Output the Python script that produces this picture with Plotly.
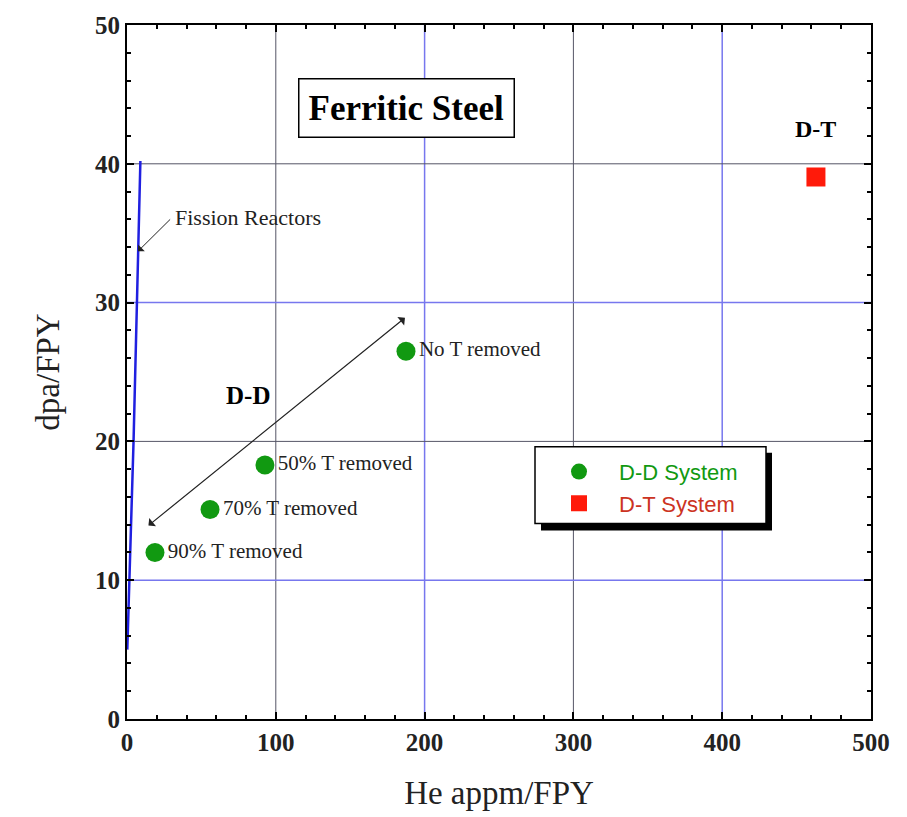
import plotly.graph_objects as go

# Data
dd_x = [18.8, 55.8, 92.7, 187.5]
dd_y = [12.0, 15.1, 18.3, 26.5]
dd_labels = ["90% T removed", "70% T removed", "50% T removed", "No T removed"]
dt_x = [463]
dt_y = [39.05]
fission_x = [0.2, 4.4, 9.0]
fission_y = [5.0, 20.0, 40.2]
x_ticks = [0, 100, 200, 300, 400, 500]
y_ticks = [0, 10, 20, 30, 40, 50]
x_grid_dark = [100, 300]
x_grid_blue = [200, 400]
y_grid_dark = [20, 40]
y_grid_blue = [10, 30]

SERIF = "Liberation Serif"
SANS = "Liberation Sans"

# plot-area pixel geometry (for placing paper-referenced legend box)
L, R, T, B = 127, 871, 24, 720
PW, PH = R - L, B - T


def px(xp):
    return (xp - L) / PW


def py(yp):
    return (B - yp) / PH


fig = go.Figure()

fig.add_trace(go.Scatter(x=fission_x, y=fission_y, mode="lines",
                         line=dict(color="#2020e0", width=2.5), showlegend=False))
fig.add_trace(go.Scatter(x=dd_x, y=dd_y, mode="markers+text", text=dd_labels,
                         textposition="middle right",
                         textfont=dict(family=SERIF, size=21, color="#222"),
                         marker=dict(color="#119911", size=19, symbol="circle"),
                         name="<span style='color:#119911'>D-D System</span>"))
fig.add_trace(go.Scatter(x=dt_x, y=dt_y, mode="markers",
                         marker=dict(color="#ff1a0a", size=19, symbol="square"),
                         name="<span style='color:#cc3322'>D-T System</span>"))

shapes = []
for v in x_grid_dark:
    shapes.append(dict(type="line", x0=v, x1=v, y0=0, y1=50, xref="x", yref="y",
                       line=dict(color="#555566", width=1), layer="below"))
for v in x_grid_blue:
    shapes.append(dict(type="line", x0=v, x1=v, y0=0, y1=50, xref="x", yref="y",
                       line=dict(color="#7777ee", width=1.5), layer="below"))
for v in y_grid_dark:
    shapes.append(dict(type="line", y0=v, y1=v, x0=0, x1=500, xref="x", yref="y",
                       line=dict(color="#555566", width=1), layer="below"))
for v in y_grid_blue:
    shapes.append(dict(type="line", y0=v, y1=v, x0=0, x1=500, xref="x", yref="y",
                       line=dict(color="#7777ee", width=1.5), layer="below"))
# legend box with drop shadow
shapes.append(dict(type="rect", xref="paper", yref="paper",
                   x0=px(541), x1=px(772), y0=py(531), y1=py(453),
                   fillcolor="black", line=dict(width=0), layer="above"))
shapes.append(dict(type="rect", xref="paper", yref="paper",
                   x0=px(535), x1=px(766), y0=py(524), y1=py(447),
                   fillcolor="white", line=dict(color="black", width=1.5), layer="above"))

annotations = [
    dict(x=187.5, y=44.0, text="<b>Ferritic Steel</b>", showarrow=False,
         font=dict(family=SERIF, size=35, color="black"),
         bordercolor="black", borderwidth=1.5, borderpad=9, bgcolor="white"),
    dict(x=463, y=42.5, text="<b>D-T</b>", showarrow=False,
         font=dict(family=SERIF, size=24, color="black")),
    dict(x=81.3, y=23.3, text="<b>D-D</b>", showarrow=False,
         font=dict(family=SERIF, size=25, color="black")),
    dict(x=31, y=36.1, text="Fission Reactors", showarrow=False, xanchor="left",
         font=dict(family=SERIF, size=22, color="#222")),
    dict(x=7.4, y=33.7, ax=30, ay=36.1, axref="x", ayref="y", xref="x", yref="y",
         text="", showarrow=True, arrowhead=1, arrowsize=1.6, arrowwidth=1,
         arrowcolor="#222"),
    dict(x=186.8, y=28.9, ax=13.4, ay=13.85, axref="x", ayref="y", xref="x", yref="y",
         text="", showarrow=True, arrowhead=1, startarrowhead=1, arrowside="end+start",
         arrowsize=1.5, startarrowsize=1.5, arrowwidth=1.2, arrowcolor="#222"),
]

fig.update_layout(
    width=907, height=817,
    margin=dict(l=L, r=907 - R, t=T, b=817 - B),
    paper_bgcolor="white", plot_bgcolor="white",
    shapes=shapes, annotations=annotations,
    legend=dict(x=px(539), y=py(451), xanchor="left", yanchor="top",
                bgcolor="rgba(0,0,0,0)", borderwidth=0,
                font=dict(family=SANS, size=22), itemwidth=70,
                tracegroupgap=0),
    xaxis=dict(range=[0, 500], tickvals=x_ticks, showgrid=False, zeroline=False,
               showline=True, linecolor="black", linewidth=2, mirror="ticks",
               ticks="inside", ticklen=7, tickcolor="black", tickwidth=1.5,
               minor=dict(dtick=20, ticks="inside", ticklen=4, tickcolor="black", showgrid=False),
               tickfont=dict(family=SERIF, size=25, color="#222", weight="bold"),
               title=dict(text="He appm/FPY", font=dict(family=SERIF, size=33, color="#222"),
                          standoff=26)),
    yaxis=dict(range=[0, 50], tickvals=y_ticks, showgrid=False, zeroline=False,
               showline=True, linecolor="black", linewidth=2, mirror="ticks",
               ticks="inside", ticklen=7, tickcolor="black", tickwidth=1.5,
               minor=dict(dtick=2, ticks="inside", ticklen=4, tickcolor="black", showgrid=False),
               tickfont=dict(family=SERIF, size=25, color="#222", weight="bold"),
               title=dict(text="dpa/FPY", font=dict(family=SERIF, size=33, color="#222"),
                          standoff=25)),
)

fig.write_html("out.html")
